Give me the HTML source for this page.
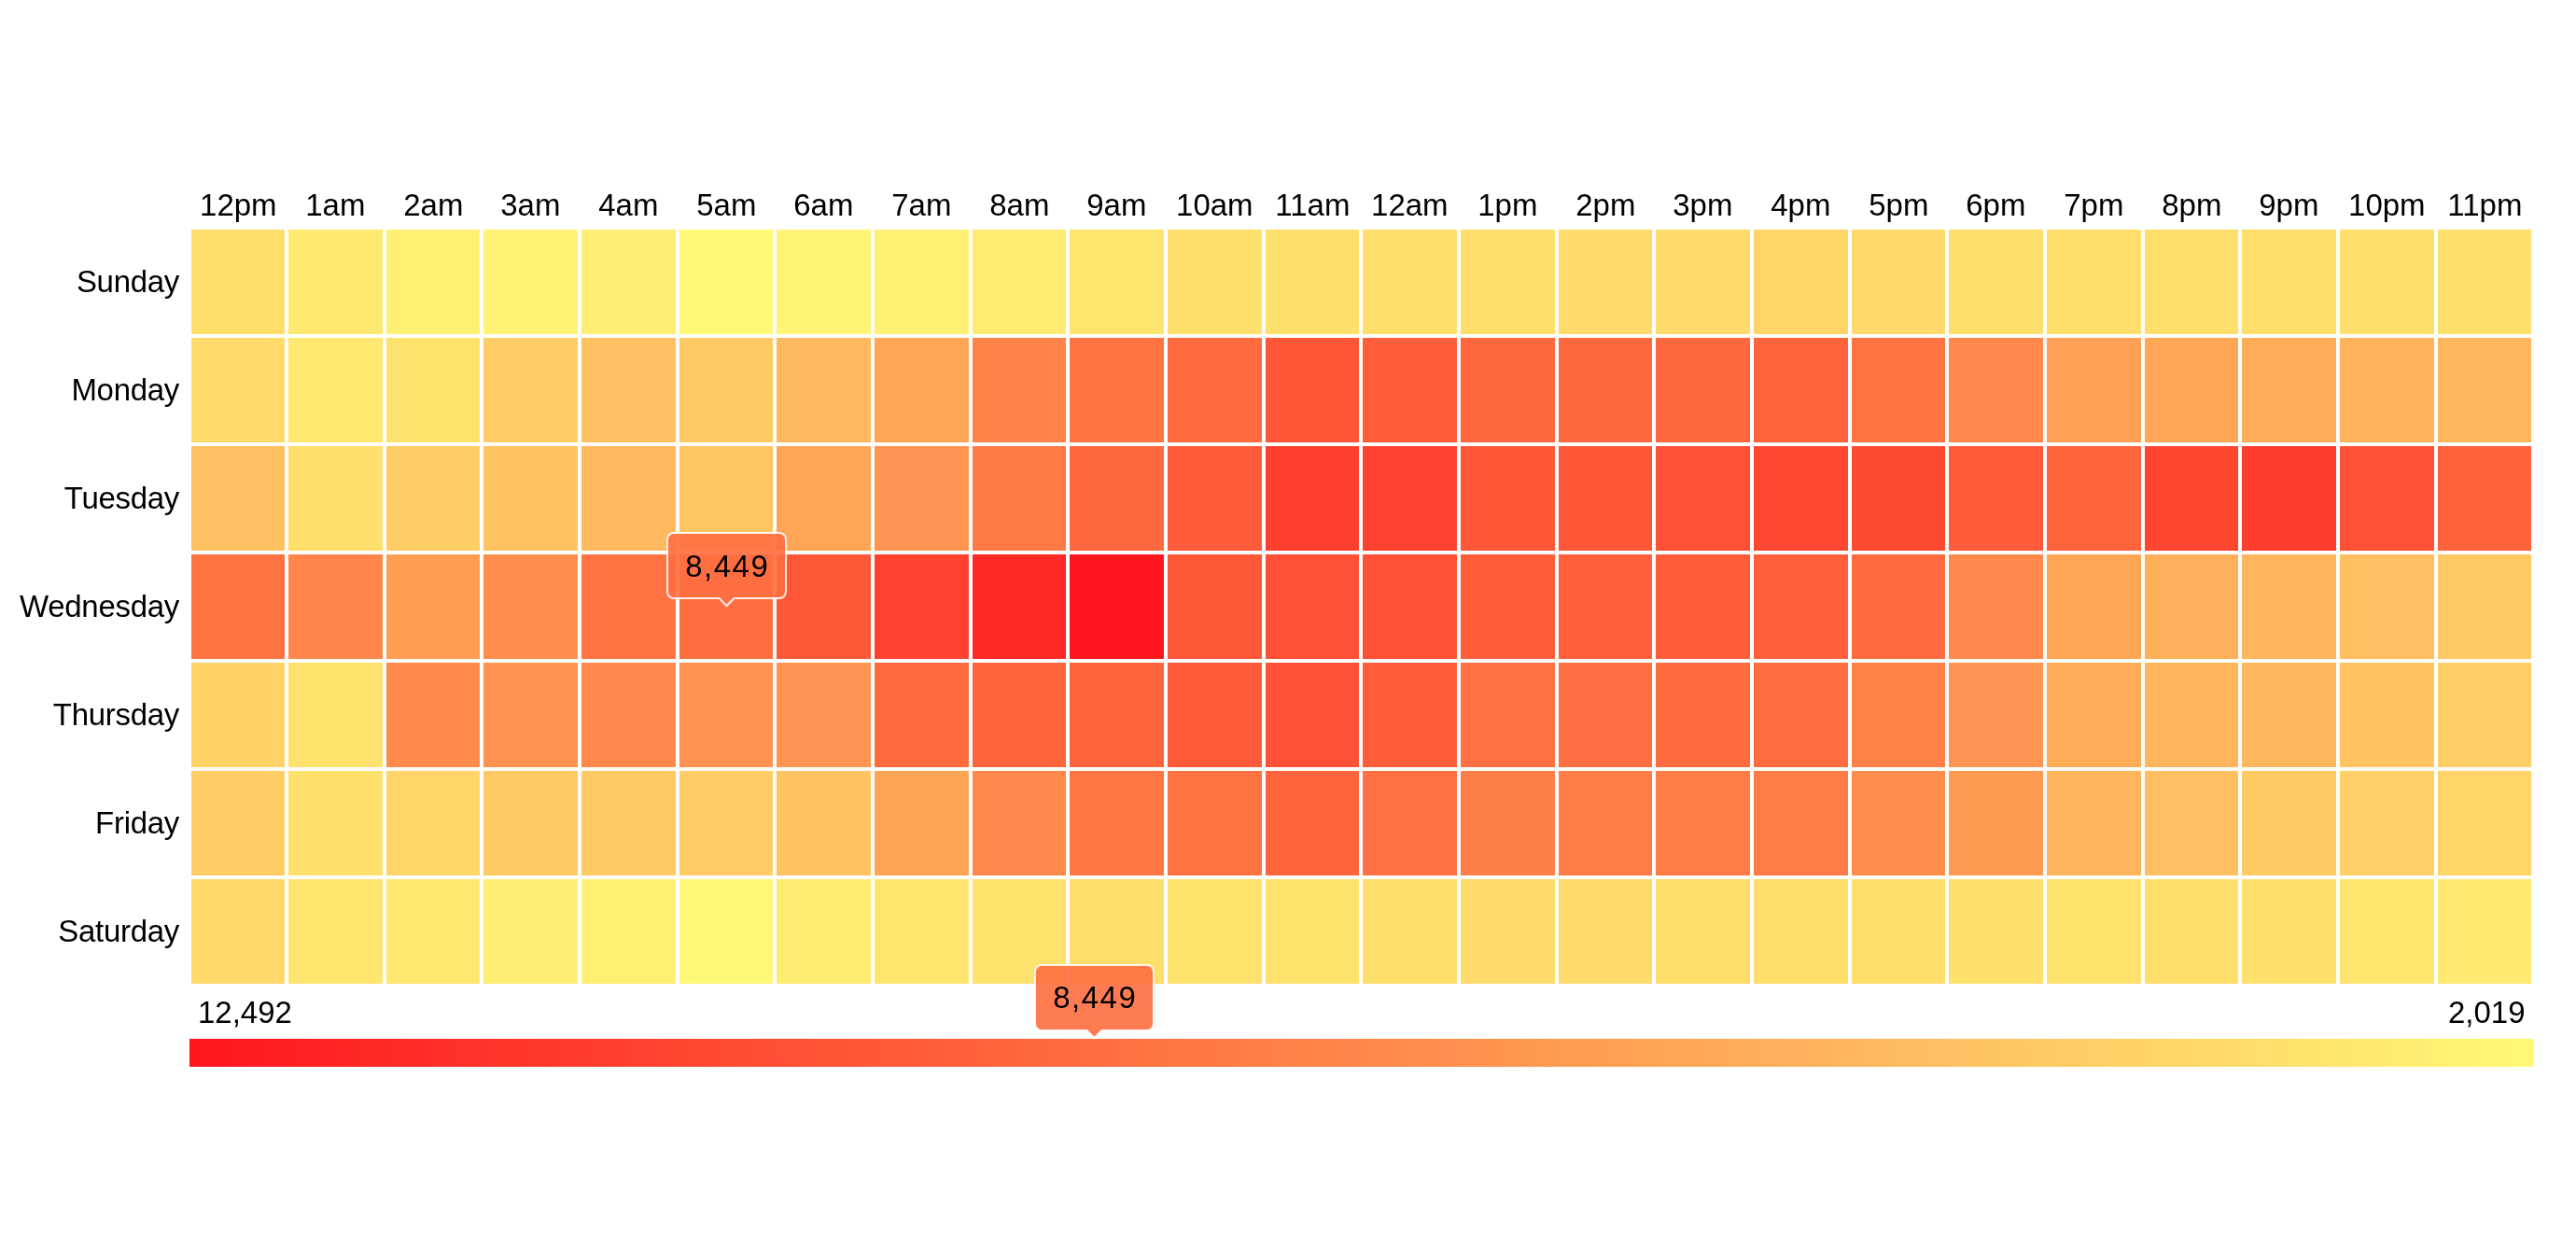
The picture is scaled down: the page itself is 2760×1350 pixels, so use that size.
<!DOCTYPE html>
<html><head><meta charset="utf-8"><style>
html,body{margin:0;padding:0;background:#fff;}
body{width:2760px;height:1350px;position:relative;overflow:hidden;-webkit-font-smoothing:antialiased;font-family:"Liberation Sans",sans-serif;color:#000;}
.t{position:absolute;will-change:transform;font-size:33px;line-height:33px;white-space:nowrap;}
.h{text-align:center;width:104.6580px;}
.d{text-align:right;left:0;letter-spacing:-0.3px;}
.c{position:absolute;width:100.6580px;height:112.0000px;}
.tip{position:absolute;overflow:visible;}
.tt{position:absolute;will-change:transform;text-align:center;font-size:33px;line-height:33px;letter-spacing:1.5px;white-space:nowrap;}
</style></head><body>

<div class="t h" style="left:202.500px;top:203.065px">12pm</div>
<div class="t h" style="left:307.158px;top:203.065px">1am</div>
<div class="t h" style="left:411.816px;top:203.065px">2am</div>
<div class="t h" style="left:516.474px;top:203.065px">3am</div>
<div class="t h" style="left:621.132px;top:203.065px">4am</div>
<div class="t h" style="left:725.790px;top:203.065px">5am</div>
<div class="t h" style="left:830.448px;top:203.065px">6am</div>
<div class="t h" style="left:935.106px;top:203.065px">7am</div>
<div class="t h" style="left:1039.764px;top:203.065px">8am</div>
<div class="t h" style="left:1144.422px;top:203.065px">9am</div>
<div class="t h" style="left:1249.080px;top:203.065px">10am</div>
<div class="t h" style="left:1353.738px;top:203.065px">11am</div>
<div class="t h" style="left:1458.396px;top:203.065px">12am</div>
<div class="t h" style="left:1563.054px;top:203.065px">1pm</div>
<div class="t h" style="left:1667.712px;top:203.065px">2pm</div>
<div class="t h" style="left:1772.370px;top:203.065px">3pm</div>
<div class="t h" style="left:1877.028px;top:203.065px">4pm</div>
<div class="t h" style="left:1981.686px;top:203.065px">5pm</div>
<div class="t h" style="left:2086.344px;top:203.065px">6pm</div>
<div class="t h" style="left:2191.002px;top:203.065px">7pm</div>
<div class="t h" style="left:2295.660px;top:203.065px">8pm</div>
<div class="t h" style="left:2400.318px;top:203.065px">9pm</div>
<div class="t h" style="left:2504.976px;top:203.065px">10pm</div>
<div class="t h" style="left:2609.634px;top:203.065px">11pm</div>
<div class="t d" style="top:285.465px;width:192px">Sunday</div>
<div class="t d" style="top:401.465px;width:192px">Monday</div>
<div class="t d" style="top:517.466px;width:192px">Tuesday</div>
<div class="t d" style="top:633.466px;width:192px">Wednesday</div>
<div class="t d" style="top:749.466px;width:192px">Thursday</div>
<div class="t d" style="top:865.466px;width:192px">Friday</div>
<div class="t d" style="top:981.466px;width:192px">Saturday</div>
<div class="c" style="left:204.500px;top:246.200px;background:#FFDE6C"></div>
<div class="c" style="left:309.158px;top:246.200px;background:#FFE971"></div>
<div class="c" style="left:413.816px;top:246.200px;background:#FFF073"></div>
<div class="c" style="left:518.474px;top:246.200px;background:#FFF274"></div>
<div class="c" style="left:623.132px;top:246.200px;background:#FFEE73"></div>
<div class="c" style="left:727.790px;top:246.200px;background:#FFF977"></div>
<div class="c" style="left:832.448px;top:246.200px;background:#FFF475"></div>
<div class="c" style="left:937.106px;top:246.200px;background:#FFF073"></div>
<div class="c" style="left:1041.764px;top:246.200px;background:#FFEB72"></div>
<div class="c" style="left:1146.422px;top:246.200px;background:#FFE56F"></div>
<div class="c" style="left:1251.080px;top:246.200px;background:#FFE06D"></div>
<div class="c" style="left:1355.738px;top:246.200px;background:#FFE06D"></div>
<div class="c" style="left:1460.396px;top:246.200px;background:#FFDE6C"></div>
<div class="c" style="left:1565.054px;top:246.200px;background:#FFDE6C"></div>
<div class="c" style="left:1669.712px;top:246.200px;background:#FFDB6B"></div>
<div class="c" style="left:1774.370px;top:246.200px;background:#FFDB6B"></div>
<div class="c" style="left:1879.028px;top:246.200px;background:#FFD569"></div>
<div class="c" style="left:1983.686px;top:246.200px;background:#FFD96B"></div>
<div class="c" style="left:2088.344px;top:246.200px;background:#FFDE6C"></div>
<div class="c" style="left:2193.002px;top:246.200px;background:#FFDE6C"></div>
<div class="c" style="left:2297.660px;top:246.200px;background:#FFDE6C"></div>
<div class="c" style="left:2402.318px;top:246.200px;background:#FFDE6C"></div>
<div class="c" style="left:2506.976px;top:246.200px;background:#FFE06D"></div>
<div class="c" style="left:2611.634px;top:246.200px;background:#FFE06D"></div>
<div class="c" style="left:204.500px;top:362.200px;background:#FFDB6B"></div>
<div class="c" style="left:309.158px;top:362.200px;background:#FFE770"></div>
<div class="c" style="left:413.816px;top:362.200px;background:#FFE26E"></div>
<div class="c" style="left:518.474px;top:362.200px;background:#FFCC65"></div>
<div class="c" style="left:623.132px;top:362.200px;background:#FFC061"></div>
<div class="c" style="left:727.790px;top:362.200px;background:#FFC964"></div>
<div class="c" style="left:832.448px;top:362.200px;background:#FFB95E"></div>
<div class="c" style="left:937.106px;top:362.200px;background:#FFA556"></div>
<div class="c" style="left:1041.764px;top:362.200px;background:#FF8349"></div>
<div class="c" style="left:1146.422px;top:362.200px;background:#FF7342"></div>
<div class="c" style="left:1251.080px;top:362.200px;background:#FF6A3F"></div>
<div class="c" style="left:1355.738px;top:362.200px;background:#FF5637"></div>
<div class="c" style="left:1460.396px;top:362.200px;background:#FF5C3A"></div>
<div class="c" style="left:1565.054px;top:362.200px;background:#FF683E"></div>
<div class="c" style="left:1669.712px;top:362.200px;background:#FF683E"></div>
<div class="c" style="left:1774.370px;top:362.200px;background:#FF683E"></div>
<div class="c" style="left:1879.028px;top:362.200px;background:#FF633C"></div>
<div class="c" style="left:1983.686px;top:362.200px;background:#FF7342"></div>
<div class="c" style="left:2088.344px;top:362.200px;background:#FF884A"></div>
<div class="c" style="left:2193.002px;top:362.200px;background:#FFA054"></div>
<div class="c" style="left:2297.660px;top:362.200px;background:#FFA757"></div>
<div class="c" style="left:2402.318px;top:362.200px;background:#FFAC59"></div>
<div class="c" style="left:2506.976px;top:362.200px;background:#FFB35B"></div>
<div class="c" style="left:2611.634px;top:362.200px;background:#FFB75D"></div>
<div class="c" style="left:204.500px;top:478.200px;background:#FFC061"></div>
<div class="c" style="left:309.158px;top:478.200px;background:#FFDE6C"></div>
<div class="c" style="left:413.816px;top:478.200px;background:#FFCC65"></div>
<div class="c" style="left:518.474px;top:478.200px;background:#FFC362"></div>
<div class="c" style="left:623.132px;top:478.200px;background:#FFB95E"></div>
<div class="c" style="left:727.790px;top:478.200px;background:#FFC563"></div>
<div class="c" style="left:832.448px;top:478.200px;background:#FFA556"></div>
<div class="c" style="left:937.106px;top:478.200px;background:#FF9550"></div>
<div class="c" style="left:1041.764px;top:478.200px;background:#FF7A45"></div>
<div class="c" style="left:1146.422px;top:478.200px;background:#FF683E"></div>
<div class="c" style="left:1251.080px;top:478.200px;background:#FF5A39"></div>
<div class="c" style="left:1355.738px;top:478.200px;background:#FF3F2E"></div>
<div class="c" style="left:1460.396px;top:478.200px;background:#FF412F"></div>
<div class="c" style="left:1565.054px;top:478.200px;background:#FF5637"></div>
<div class="c" style="left:1669.712px;top:478.200px;background:#FF5637"></div>
<div class="c" style="left:1774.370px;top:478.200px;background:#FF4F34"></div>
<div class="c" style="left:1879.028px;top:478.200px;background:#FF4832"></div>
<div class="c" style="left:1983.686px;top:478.200px;background:#FF4A32"></div>
<div class="c" style="left:2088.344px;top:478.200px;background:#FF5A39"></div>
<div class="c" style="left:2193.002px;top:478.200px;background:#FF633C"></div>
<div class="c" style="left:2297.660px;top:478.200px;background:#FF4631"></div>
<div class="c" style="left:2402.318px;top:478.200px;background:#FF3D2D"></div>
<div class="c" style="left:2506.976px;top:478.200px;background:#FF5135"></div>
<div class="c" style="left:2611.634px;top:478.200px;background:#FF613B"></div>
<div class="c" style="left:204.500px;top:594.200px;background:#FF7342"></div>
<div class="c" style="left:309.158px;top:594.200px;background:#FF854A"></div>
<div class="c" style="left:413.816px;top:594.200px;background:#FF9E53"></div>
<div class="c" style="left:518.474px;top:594.200px;background:#FF8E4D"></div>
<div class="c" style="left:623.132px;top:594.200px;background:#FF7342"></div>
<div class="c" style="left:727.790px;top:594.200px;background:#FF6E40"></div>
<div class="c" style="left:832.448px;top:594.200px;background:#FF5838"></div>
<div class="c" style="left:937.106px;top:594.200px;background:#FF412F"></div>
<div class="c" style="left:1041.764px;top:594.200px;background:#FF2825"></div>
<div class="c" style="left:1146.422px;top:594.200px;background:#FF161E"></div>
<div class="c" style="left:1251.080px;top:594.200px;background:#FF5838"></div>
<div class="c" style="left:1355.738px;top:594.200px;background:#FF4F34"></div>
<div class="c" style="left:1460.396px;top:594.200px;background:#FF4F34"></div>
<div class="c" style="left:1565.054px;top:594.200px;background:#FF5C3A"></div>
<div class="c" style="left:1669.712px;top:594.200px;background:#FF5F3A"></div>
<div class="c" style="left:1774.370px;top:594.200px;background:#FF5C3A"></div>
<div class="c" style="left:1879.028px;top:594.200px;background:#FF5F3A"></div>
<div class="c" style="left:1983.686px;top:594.200px;background:#FF6A3F"></div>
<div class="c" style="left:2088.344px;top:594.200px;background:#FF884A"></div>
<div class="c" style="left:2193.002px;top:594.200px;background:#FFA556"></div>
<div class="c" style="left:2297.660px;top:594.200px;background:#FFB05B"></div>
<div class="c" style="left:2402.318px;top:594.200px;background:#FFB55C"></div>
<div class="c" style="left:2506.976px;top:594.200px;background:#FFBE60"></div>
<div class="c" style="left:2611.634px;top:594.200px;background:#FFC964"></div>
<div class="c" style="left:204.500px;top:710.200px;background:#FFD268"></div>
<div class="c" style="left:309.158px;top:710.200px;background:#FFE26E"></div>
<div class="c" style="left:413.816px;top:710.200px;background:#FF8A4B"></div>
<div class="c" style="left:518.474px;top:710.200px;background:#FF934F"></div>
<div class="c" style="left:623.132px;top:710.200px;background:#FF884A"></div>
<div class="c" style="left:727.790px;top:710.200px;background:#FF934F"></div>
<div class="c" style="left:832.448px;top:710.200px;background:#FF9550"></div>
<div class="c" style="left:937.106px;top:710.200px;background:#FF6A3F"></div>
<div class="c" style="left:1041.764px;top:710.200px;background:#FF653D"></div>
<div class="c" style="left:1146.422px;top:710.200px;background:#FF653D"></div>
<div class="c" style="left:1251.080px;top:710.200px;background:#FF5A39"></div>
<div class="c" style="left:1355.738px;top:710.200px;background:#FF5135"></div>
<div class="c" style="left:1460.396px;top:710.200px;background:#FF5C3A"></div>
<div class="c" style="left:1565.054px;top:710.200px;background:#FF7142"></div>
<div class="c" style="left:1669.712px;top:710.200px;background:#FF6F41"></div>
<div class="c" style="left:1774.370px;top:710.200px;background:#FF6A3F"></div>
<div class="c" style="left:1879.028px;top:710.200px;background:#FF6C40"></div>
<div class="c" style="left:1983.686px;top:710.200px;background:#FF8148"></div>
<div class="c" style="left:2088.344px;top:710.200px;background:#FF9550"></div>
<div class="c" style="left:2193.002px;top:710.200px;background:#FFAC59"></div>
<div class="c" style="left:2297.660px;top:710.200px;background:#FFB55C"></div>
<div class="c" style="left:2402.318px;top:710.200px;background:#FFB75D"></div>
<div class="c" style="left:2506.976px;top:710.200px;background:#FFC362"></div>
<div class="c" style="left:2611.634px;top:710.200px;background:#FFCE66"></div>
<div class="c" style="left:204.500px;top:826.200px;background:#FFCC65"></div>
<div class="c" style="left:309.158px;top:826.200px;background:#FFE06D"></div>
<div class="c" style="left:413.816px;top:826.200px;background:#FFD569"></div>
<div class="c" style="left:518.474px;top:826.200px;background:#FFC964"></div>
<div class="c" style="left:623.132px;top:826.200px;background:#FFC964"></div>
<div class="c" style="left:727.790px;top:826.200px;background:#FFCC65"></div>
<div class="c" style="left:832.448px;top:826.200px;background:#FFC362"></div>
<div class="c" style="left:937.106px;top:826.200px;background:#FFA355"></div>
<div class="c" style="left:1041.764px;top:826.200px;background:#FF884A"></div>
<div class="c" style="left:1146.422px;top:826.200px;background:#FF7543"></div>
<div class="c" style="left:1251.080px;top:826.200px;background:#FF7342"></div>
<div class="c" style="left:1355.738px;top:826.200px;background:#FF653D"></div>
<div class="c" style="left:1460.396px;top:826.200px;background:#FF7142"></div>
<div class="c" style="left:1565.054px;top:826.200px;background:#FF7E47"></div>
<div class="c" style="left:1669.712px;top:826.200px;background:#FF7C46"></div>
<div class="c" style="left:1774.370px;top:826.200px;background:#FF7C46"></div>
<div class="c" style="left:1879.028px;top:826.200px;background:#FF7C46"></div>
<div class="c" style="left:1983.686px;top:826.200px;background:#FF8E4D"></div>
<div class="c" style="left:2088.344px;top:826.200px;background:#FF9A52"></div>
<div class="c" style="left:2193.002px;top:826.200px;background:#FFB55C"></div>
<div class="c" style="left:2297.660px;top:826.200px;background:#FFBE60"></div>
<div class="c" style="left:2402.318px;top:826.200px;background:#FFC964"></div>
<div class="c" style="left:2506.976px;top:826.200px;background:#FFD067"></div>
<div class="c" style="left:2611.634px;top:826.200px;background:#FFD569"></div>
<div class="c" style="left:204.500px;top:942.200px;background:#FFD96B"></div>
<div class="c" style="left:309.158px;top:942.200px;background:#FFE56F"></div>
<div class="c" style="left:413.816px;top:942.200px;background:#FFE770"></div>
<div class="c" style="left:518.474px;top:942.200px;background:#FFEE73"></div>
<div class="c" style="left:623.132px;top:942.200px;background:#FFF073"></div>
<div class="c" style="left:727.790px;top:942.200px;background:#FFF776"></div>
<div class="c" style="left:832.448px;top:942.200px;background:#FFEB72"></div>
<div class="c" style="left:937.106px;top:942.200px;background:#FFE56F"></div>
<div class="c" style="left:1041.764px;top:942.200px;background:#FFE26E"></div>
<div class="c" style="left:1146.422px;top:942.200px;background:#FFDE6C"></div>
<div class="c" style="left:1251.080px;top:942.200px;background:#FFE26E"></div>
<div class="c" style="left:1355.738px;top:942.200px;background:#FFE26E"></div>
<div class="c" style="left:1460.396px;top:942.200px;background:#FFDE6C"></div>
<div class="c" style="left:1565.054px;top:942.200px;background:#FFDB6B"></div>
<div class="c" style="left:1669.712px;top:942.200px;background:#FFDB6B"></div>
<div class="c" style="left:1774.370px;top:942.200px;background:#FFDE6C"></div>
<div class="c" style="left:1879.028px;top:942.200px;background:#FFDE6C"></div>
<div class="c" style="left:1983.686px;top:942.200px;background:#FFDE6C"></div>
<div class="c" style="left:2088.344px;top:942.200px;background:#FFE06D"></div>
<div class="c" style="left:2193.002px;top:942.200px;background:#FFE26E"></div>
<div class="c" style="left:2297.660px;top:942.200px;background:#FFDE6C"></div>
<div class="c" style="left:2402.318px;top:942.200px;background:#FFE06D"></div>
<div class="c" style="left:2506.976px;top:942.200px;background:#FFE56F"></div>
<div class="c" style="left:2611.634px;top:942.200px;background:#FFE971"></div>
<div style="position:absolute;left:203px;top:1113px;width:2512px;height:30px;background:linear-gradient(to right,#FF161E,#FFF977)"></div>
<div class="t" style="left:212px;top:1067.765px">12,492</div>
<div class="t" style="right:54.000px;top:1067.765px">2,019</div>
<svg class="tip" style="left:711.800px;top:568.000px" width="133.00" height="86.00"><path d="M10.00 3.00 H123.00 A7.00 7.00 0 0 1 130.00 10.00 V66.00 A7.00 7.00 0 0 1 123.00 73.00 H74.50 L66.50 81.00 L58.50 73.00 H10.00 A7.00 7.00 0 0 1 3.00 66.00 V10.00 A7.00 7.00 0 0 1 10.00 3.00 Z" fill="rgba(255,110,64,0.9)" stroke="rgba(255,255,255,0.88)" stroke-width="2.0" stroke-linejoin="miter"/></svg><div class="tt" style="left:713.800px;width:129.000px;top:589.666px;text-indent:1.5px">8,449</div>
<svg class="tip" style="left:1105.800px;top:1030.500px" width="133.00" height="86.00"><path d="M10.00 3.00 H123.00 A7.00 7.00 0 0 1 130.00 10.00 V66.00 A7.00 7.00 0 0 1 123.00 73.00 H74.50 L66.50 81.00 L58.50 73.00 H10.00 A7.00 7.00 0 0 1 3.00 66.00 V10.00 A7.00 7.00 0 0 1 10.00 3.00 Z" fill="rgba(255,110,64,0.9)" stroke="rgba(255,255,255,0.88)" stroke-width="2.0" stroke-linejoin="miter"/></svg><div class="tt" style="left:1107.800px;width:129.000px;top:1052.165px;text-indent:1.5px">8,449</div>
</body></html>
